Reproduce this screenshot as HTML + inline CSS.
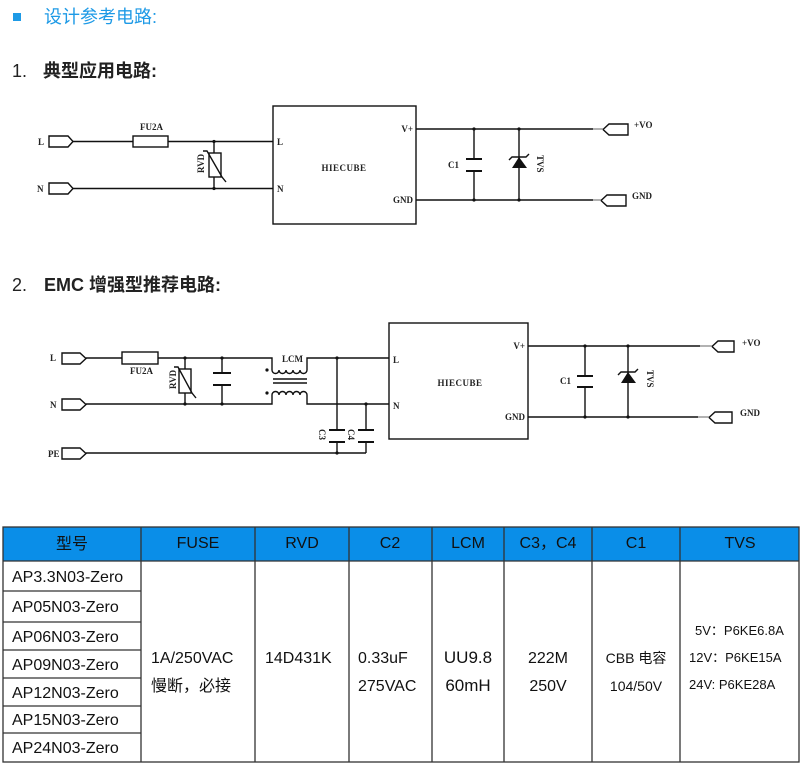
<!DOCTYPE html>
<html>
<head>
<meta charset="utf-8">
<style>
html,body{margin:0;padding:0;background:#fff;}
svg{display:block;}
.s{font-family:"Liberation Serif","Noto Serif CJK SC",serif;font-size:9px;font-weight:bold;fill:#222;}
.t{font-family:"Liberation Sans","Noto Sans CJK SC",sans-serif;fill:#111;}
</style>
</head>
<body>
<svg width="800" height="771" viewBox="0 0 800 771" xmlns="http://www.w3.org/2000/svg">
<rect width="800" height="771" fill="#fff"/>

<!-- Titles -->
<rect x="13" y="13" width="8" height="8" fill="#1e9ae6"/>
<text x="44" y="23" class="t" style="font-size:18px;fill:#1e9ae6">设计参考电路:</text>
<text x="12" y="77" class="t" style="font-size:18px;fill:#222">1.</text>
<text x="43" y="77" class="t" style="font-size:18px;fill:#222;font-weight:bold">典型应用电路:</text>
<text x="12" y="291" class="t" style="font-size:18px;fill:#222">2.</text>
<text x="44" y="291" class="t" style="font-size:18px;fill:#222;font-weight:bold">EMC 增强型推荐电路:</text>

<!-- ========== Circuit 1 ========== -->
<g stroke="#111" stroke-width="1.4" fill="none">
  <path d="M49,136 H68 L73,141.5 L68,147 H49 Z"/>
  <path d="M49,183 H68 L73,188.5 L68,194 H49 Z"/>
  <path d="M73,141.5 H133 M168,141.5 H273"/>
  <rect x="133" y="136" width="35" height="11"/>
  <path d="M73,188.5 H273"/>
  <path d="M214,141.5 V153 M214,177 V188.5"/>
  <rect x="209" y="153" width="12" height="24"/>
  <polyline points="203,151 207,151 222,177 226,182"/>
  <rect x="273" y="106" width="143" height="118"/>
  <path d="M416,129 H593 M416,200 H593"/>
  <path d="M474,129 V159 M474,171 V200"/>
  <path d="M466,159 H482 M466,171 H482" stroke-width="2"/>
  <path d="M519,129 V200"/>
  <path d="M509,160 L512,157 H526 L529,154"/>
  <path d="M628,124 H609 L603,129.5 L609,135 H628 Z"/>
  <path d="M626,195 H607 L601,200.5 L607,206 H626 Z"/>
  <path d="M593,129 H603 M593,200 H601" stroke="#999"/>
</g>
<polygon points="519,157 512,168 527,168" fill="#111"/>
<g fill="#111">
  <circle cx="214" cy="141.5" r="1.6"/>
  <circle cx="214" cy="188.5" r="1.6"/>
  <circle cx="474" cy="129" r="1.6"/>
  <circle cx="474" cy="200" r="1.6"/>
  <circle cx="519" cy="129" r="1.6"/>
  <circle cx="519" cy="200" r="1.6"/>
</g>
<text x="38" y="145" class="s">L</text>
<text x="37" y="192" class="s">N</text>
<text x="140" y="130" class="s">FU2A</text>
<text x="0" y="0" class="s" transform="translate(204,173) rotate(-90)">RVD</text>
<text x="277" y="145" class="s">L</text>
<text x="277" y="192" class="s">N</text>
<text x="344" y="171" class="s" text-anchor="middle" letter-spacing="0.5">HIECUBE</text>
<text x="413" y="132" class="s" text-anchor="end">V+</text>
<text x="413" y="203" class="s" text-anchor="end">GND</text>
<text x="448" y="168" class="s">C1</text>
<text x="0" y="0" class="s" transform="translate(537,155) rotate(90)">TVS</text>
<text x="634" y="128" class="s">+VO</text>
<text x="632" y="199" class="s">GND</text>

<!-- ========== Circuit 2 ========== -->
<g stroke="#111" stroke-width="1.4" fill="none">
  <path d="M62,353 H80 L86,358.5 L80,364 H62 Z"/>
  <path d="M62,399 H80 L86,404.5 L80,410 H62 Z"/>
  <path d="M62,448 H80 L86,453.5 L80,459 H62 Z"/>
  <path d="M86,358 H122 M158,358 H272 V370"/>
  <rect x="122" y="352" width="36" height="12"/>
  <path d="M272,370 a3.5,3.5 0 0 0 7,0 a3.5,3.5 0 0 0 7,0 a3.5,3.5 0 0 0 7,0 a3.5,3.5 0 0 0 7,0 a3.5,3.5 0 0 0 7,0 V358 H389"/>
  <path d="M273,379 H307 M273,383 H307"/>
  <path d="M86,404 H272 V395"/>
  <path d="M272,395 a3.5,3.5 0 0 1 7,0 a3.5,3.5 0 0 1 7,0 a3.5,3.5 0 0 1 7,0 a3.5,3.5 0 0 1 7,0 a3.5,3.5 0 0 1 7,0 V404 H389"/>
  <path d="M185,358 V369 M185,393 V404"/>
  <rect x="179" y="369" width="12" height="24"/>
  <polyline points="174,367 178,367 192,393 196,398"/>
  <path d="M222,358 V373 M222,385 V404"/>
  <path d="M213,373 H231 M213,385 H231" stroke-width="2"/>
  <path d="M86,453 H366"/>
  <path d="M337,358 V430 M337,442 V453"/>
  <path d="M329,430 H345 M329,442 H345" stroke-width="2"/>
  <path d="M366,404 V430 M366,442 V453"/>
  <path d="M358,430 H374 M358,442 H374" stroke-width="2"/>
  <rect x="389" y="323" width="139" height="116"/>
  <path d="M528,346 H700 M528,417 H698"/>
  <path d="M585,346 V376 M585,387 V417"/>
  <path d="M577,376 H593 M577,387 H593" stroke-width="2"/>
  <path d="M628,346 V417"/>
  <path d="M618,375 L621,372 H635 L638,369"/>
  <path d="M734,341 H718 L712,346.5 L718,352 H734 Z"/>
  <path d="M732,412 H715 L709,417.5 L715,423 H732 Z"/>
  <path d="M700,346 H712 M698,417 H709" stroke="#999"/>
</g>
<polygon points="628,372 621,383 636,383" fill="#111"/>
<g fill="#111">
  <circle cx="185" cy="358" r="1.6"/>
  <circle cx="185" cy="404" r="1.6"/>
  <circle cx="222" cy="358" r="1.6"/>
  <circle cx="222" cy="404" r="1.6"/>
  <circle cx="267" cy="370" r="1.6"/>
  <circle cx="267" cy="393" r="1.6"/>
  <circle cx="337" cy="358" r="1.6"/>
  <circle cx="366" cy="404" r="1.6"/>
  <circle cx="337" cy="453" r="1.6"/>
  <circle cx="585" cy="346" r="1.6"/>
  <circle cx="585" cy="417" r="1.6"/>
  <circle cx="628" cy="346" r="1.6"/>
  <circle cx="628" cy="417" r="1.6"/>
</g>
<text x="50" y="361" class="s">L</text>
<text x="50" y="408" class="s">N</text>
<text x="48" y="457" class="s">PE</text>
<text x="130" y="374" class="s">FU2A</text>
<text x="0" y="0" class="s" transform="translate(176,389) rotate(-90)">RVD</text>
<text x="282" y="362" class="s">LCM</text>
<text x="0" y="0" class="s" transform="translate(319,429) rotate(90)">C3</text>
<text x="0" y="0" class="s" transform="translate(348,429) rotate(90)">C4</text>
<text x="393" y="363" class="s">L</text>
<text x="393" y="409" class="s">N</text>
<text x="460" y="386" class="s" text-anchor="middle" letter-spacing="0.5">HIECUBE</text>
<text x="525" y="349" class="s" text-anchor="end">V+</text>
<text x="525" y="420" class="s" text-anchor="end">GND</text>
<text x="560" y="384" class="s">C1</text>
<text x="0" y="0" class="s" transform="translate(647,370) rotate(90)">TVS</text>
<text x="742" y="346" class="s">+VO</text>
<text x="740" y="416" class="s">GND</text>

<!-- ========== Table ========== -->
<rect x="3" y="527" width="796" height="34" fill="#0a8ee8"/>
<g stroke="#333" stroke-width="1.3" fill="none">
  <rect x="3" y="527" width="796" height="235"/>
  <path d="M3,561 H799"/>
  <path d="M3,591 H141 M3,622 H141 M3,650 H141 M3,678 H141 M3,706 H141 M3,733 H141"/>
  <path d="M141,527 V762 M255,527 V762 M349,527 V762 M432,527 V762 M504,527 V762 M592,527 V762 M680,527 V762"/>
</g>
<g class="t" style="font-size:16px" text-anchor="middle">
  <text x="72" y="549">型号</text>
  <text x="198" y="548">FUSE</text>
  <text x="302" y="548">RVD</text>
  <text x="390" y="548">C2</text>
  <text x="468" y="548">LCM</text>
  <text x="548" y="548">C3，C4</text>
  <text x="636" y="548">C1</text>
  <text x="740" y="548">TVS</text>
</g>
<g class="t" style="font-size:16px">
  <text x="12" y="582">AP3.3N03-Zero</text>
  <text x="12" y="612">AP05N03-Zero</text>
  <text x="12" y="642">AP06N03-Zero</text>
  <text x="12" y="670">AP09N03-Zero</text>
  <text x="12" y="698">AP12N03-Zero</text>
  <text x="12" y="725">AP15N03-Zero</text>
  <text x="12" y="753">AP24N03-Zero</text>
  <text x="151" y="663">1A/250VAC</text>
  <text x="151" y="691">慢断，必接</text>
  <text x="265" y="663">14D431K</text>
  <text x="358" y="663">0.33uF</text>
  <text x="358" y="691">275VAC</text>
</g>
<g class="t" text-anchor="middle">
  <text x="468" y="663" style="font-size:17px">UU9.8</text>
  <text x="468" y="691" style="font-size:17px">60mH</text>
  <text x="548" y="663" style="font-size:16px">222M</text>
  <text x="548" y="691" style="font-size:16px">250V</text>
  <text x="636" y="663" style="font-size:14px">CBB 电容</text>
  <text x="636" y="691" style="font-size:14px">104/50V</text>
</g>
<g class="t" style="font-size:13px">
  <text x="695" y="635">5V：P6KE6.8A</text>
  <text x="689" y="662">12V：P6KE15A</text>
  <text x="689" y="689">24V: P6KE28A</text>
</g>
</svg>
</body>
</html>
